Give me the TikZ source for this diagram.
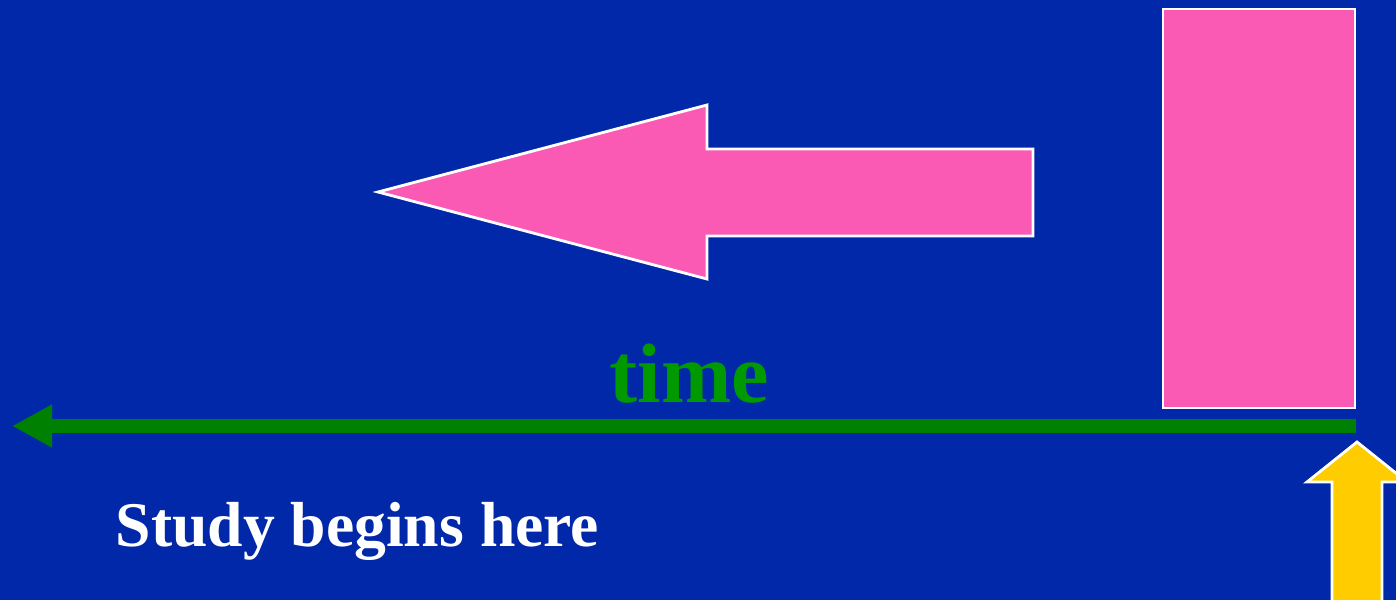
\documentclass[tikz,border=0pt]{standalone}
\usepackage{fontspec}
\setmainfont{Liberation Serif}
\usetikzlibrary{arrows.meta}

\definecolor{slideblue}{HTML}{0028A8}
\definecolor{slidepink}{HTML}{FA5AB4}
\definecolor{slidegreen}{HTML}{008000}
\definecolor{timegreen}{HTML}{009900}
\definecolor{slideyellow}{HTML}{FFCC00}

\begin{document}
\begin{tikzpicture}[
    x=0.01cm, y=-0.01cm,
    outlined/.style={draw=white, line width=0.8pt, line join=miter},
    pinkshape/.style={outlined, fill=slidepink},
    yellowshape/.style={outlined, fill=slideyellow},
    axis/.style={draw=slidegreen, line width=3.7pt, -{Triangle[length=4mm, width=4mm]}},
    label/.style={inner sep=0pt, anchor=base west, font=\bfseries}
]

% --- Background ---
\useasboundingbox (0,0) rectangle (1396,600);
\fill[slideblue] (0,0) rectangle (1396,600);
\clip (0,0) rectangle (1396,600);

% Study period box
\draw[pinkshape] (1163,9) rectangle (1355,408);

% Direction of the study
\draw[pinkshape] (378,192) -- (707,105) -- (707,149) -- (1033,149)
    -- (1033,236) -- (707,236) -- (707,279) -- cycle;

% Time axis
\coordinate (start) at (1356,426);
\coordinate (past) at (12,426);
\draw[axis] (start) -- (past);
\node[label, text=timegreen, font=\fontsize{24}{28}\selectfont\bfseries] (time) at (609,402) {time};

% Start marker
\draw[yellowshape] (1357,442) -- (1407,482) -- (1382,482) -- (1382,620)
    -- (1332,620) -- (1332,482) -- (1307,482) -- cycle;
\node[label, text=white, font=\fontsize{18.1}{22}\selectfont\bfseries] (begins) at (115,546) {Study begins here};

\end{tikzpicture}
\end{document}
